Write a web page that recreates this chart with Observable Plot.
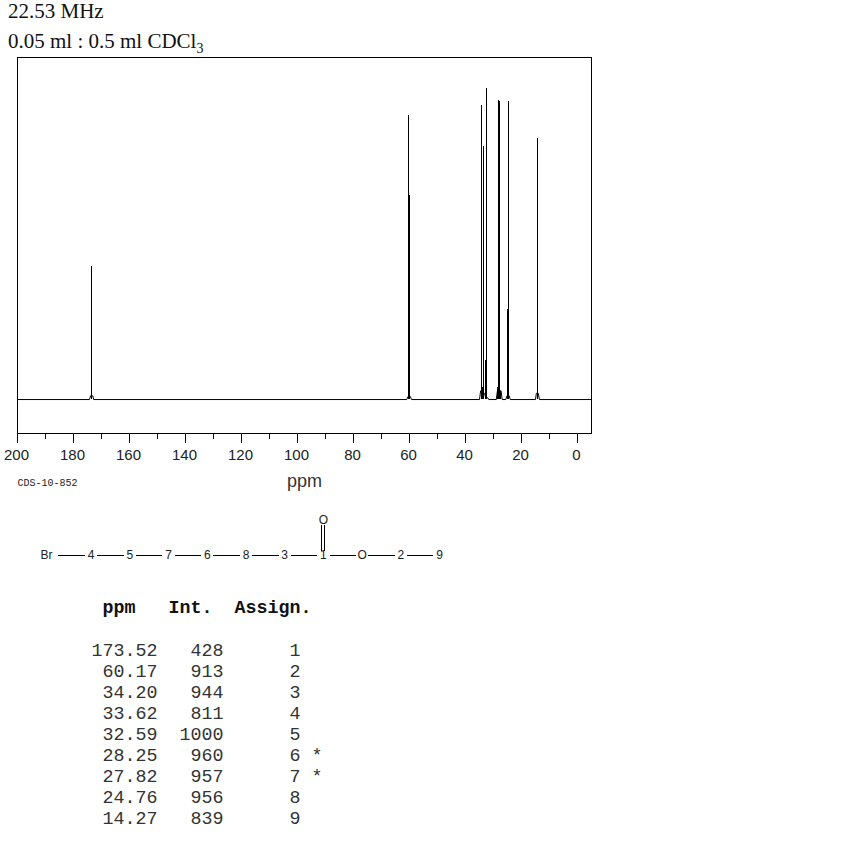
<!DOCTYPE html>
<html>
<head>
<meta charset="utf-8">
<script src="https://cdn.jsdelivr.net/npm/d3@7"></script>
<script src="https://cdn.jsdelivr.net/npm/@observablehq/plot@0.6"></script>
<style>
html,body{margin:0;padding:0;background:#fff;width:850px;height:850px;overflow:hidden}
#title{font:21px/30px "Liberation Serif",serif;color:#111;padding-left:8px;box-sizing:border-box;margin-top:-4px;height:54px}
#title sub{font-size:14px;line-height:0}
svg{display:block}
#table{font:18.33px/21px "Liberation Mono",monospace;color:#333;white-space:pre;margin:0;position:absolute;left:3.5px;top:598px}
#table b{font-weight:bold;color:#111;display:block;margin-bottom:22px}
</style>
</head>
<body>
<div id="title">22.53 MHz<br>0.05 ml : 0.5 ml CDCl<sub>3</sub></div>
<div id="chart"></div>
<div id="mol"></div>
<pre id="table"></pre>
<script>
// Peak table
const ppm = [173.52, 60.17, 34.20, 33.62, 32.59, 28.25, 27.82, 24.76, 14.27];
const intensity = [428, 913, 944, 811, 1000, 960, 957, 956, 839];
const assign = ["1", "2", "3", "4", "5", "6", "7", "8", "9"];
const marks = ["", "", "", "", "", "*", "*", "", ""];
// Shoulders
const shoulderPpm = [59.9, 33.9, 32.8, 28.54, 27.5, 25.0];
const shoulderInt = [656, 40, 124, 40, 27, 290];
// Peak feet along the baseline
const feetPpm = [200, 174.3, 173.9, 173.1, 172.8, 61, 60.5, 59.7, 59.3, 35, 34.6, 33.2, 32.8, 32.1, 31.7, 29, 28.6, 27.3, 26.9, 25.6, 25.2, 24.4, 24, 15, 14.7, 14, 13.6, -5];
const feetInt = [0, 0, 12, 12, 0, 0, 10, 10, 0, 0, 28, 20, 6, 6, 0, 0, 28, 28, 0, 0, 12, 12, 0, 0, 20, 20, 0, 0];
// Axis
const majorTicks = [200, 180, 160, 140, 120, 100, 80, 60, 40, 20, 0];
const minorTicks = [190, 170, 150, 130, 110, 90, 70, 50, 30, 10];
// Structure
const atoms = ["4", "5", "7", "6", "8", "3", "1", "O", "2", "9"];
const atomPos = [1, 2, 3, 4, 5, 6, 7, 8, 9, 10];
const bondPos = [0, 1, 2, 3, 4, 5, 6, 7, 8, 9];

const axisFont = '"Liberation Sans",sans-serif';

const chart = Plot.plot({
  width: 850, height: 450,
  marginLeft: 17, marginRight: 259, marginTop: 7, marginBottom: 67,
  style: {background: "transparent", overflow: "visible"},
  x: {domain: [200, -5]},
  y: {domain: [-109, 1098], axis: null},
  marks: [
    Plot.frame({stroke: "#000", strokeWidth: 1, shapeRendering: "crispEdges"}),
    Plot.axisX({
      ticks: minorTicks, tickSize: 6, tickFormat: () => "", label: null,
      stroke: "#000", shapeRendering: "crispEdges"
    }),
    Plot.axisX({
      ticks: majorTicks, tickSize: 10, tickFormat: () => "", label: null,
      stroke: "#000", shapeRendering: "crispEdges"
    }),
    Plot.axisX({
      ticks: majorTicks, tickSize: 0, tickPadding: 16, dx: -1, tickFormat: d => String(d), label: null,
      fontSize: 15, fontFamily: axisFont, fill: "#222"
    }),
    Plot.line(feetPpm.map((p, i) => [p, feetInt[i]]), {x: "0", y: "1", stroke: "#000", strokeWidth: 1}),
    Plot.ruleX(ppm, {x: d => d, dx: -0.1, y1: 0, y2: (d, i) => intensity[i], stroke: "#000", strokeWidth: 1, shapeRendering: "crispEdges"}),
    Plot.ruleX(shoulderPpm, {x: d => d, dx: -0.1, y1: 0, y2: (d, i) => shoulderInt[i], stroke: "#000", strokeWidth: 1, shapeRendering: "crispEdges"}),
    Plot.text(["ppm"], {frameAnchor: "bottom", dy: 53, x: () => 97.5, fontSize: 18, letterSpacing: -1, fontFamily: axisFont, fill: "#333"}),
    Plot.text(["CDS-10-852"], {frameAnchor: "bottom-left", dy: 52, fontSize: 10, fontFamily: '"Liberation Mono",monospace', fill: "#222"})
  ]
});
document.getElementById("chart").appendChild(chart);

const mol = Plot.plot({
  width: 850, height: 70,
  marginLeft: 0, marginRight: 0, marginTop: 0, marginBottom: 0,
  style: {background: "transparent"},
  x: {domain: [0, 10], range: [52, 439], axis: null},
  y: {domain: [1, 0], range: [20, 55], axis: null},
  marks: [
    Plot.link(bondPos, {x1: d => d + (d === 0 ? 0.14 : 0.16), x2: d => d + 0.84, y1: 0, y2: 0, stroke: "#000", strokeWidth: 1, shapeRendering: "crispEdges"}),
    Plot.link([7], {x1: d => d, x2: d => d, y1: 0.14, y2: 0.86, dx: -1.5, stroke: "#000", strokeWidth: 1, shapeRendering: "crispEdges"}),
    Plot.link([7], {x1: d => d, x2: d => d, y1: 0.14, y2: 0.86, dx: 1.5, stroke: "#000", strokeWidth: 1, shapeRendering: "crispEdges"}),
    Plot.text(atoms, {x: (d, i) => atomPos[i], y: () => 0, text: d => d, fontSize: 12, fontFamily: axisFont, fill: "#222"}),
    Plot.text(["Br"], {x: () => 0, y: () => 0, dx: -6, text: d => d, fontSize: 12, letterSpacing: 1.5, fontFamily: axisFont, fill: "#222"}),
    Plot.text(["O"], {x: () => 7, y: () => 1, text: d => d, fontSize: 12, fontFamily: axisFont, fill: "#222"})
  ]
});
document.getElementById("mol").appendChild(mol);

const pad = (s, n) => String(s).padStart(n, " ");
const rows = ppm.map((p, i) =>
  pad(p.toFixed(2), 14) + pad(intensity[i], 6) + pad(assign[i], 7) + (marks[i] ? " " + marks[i] : "")
);
document.getElementById("table").innerHTML =
  "<b>         ppm   Int.  Assign.</b>" + rows.join("\n");
</script>
</body>
</html>
